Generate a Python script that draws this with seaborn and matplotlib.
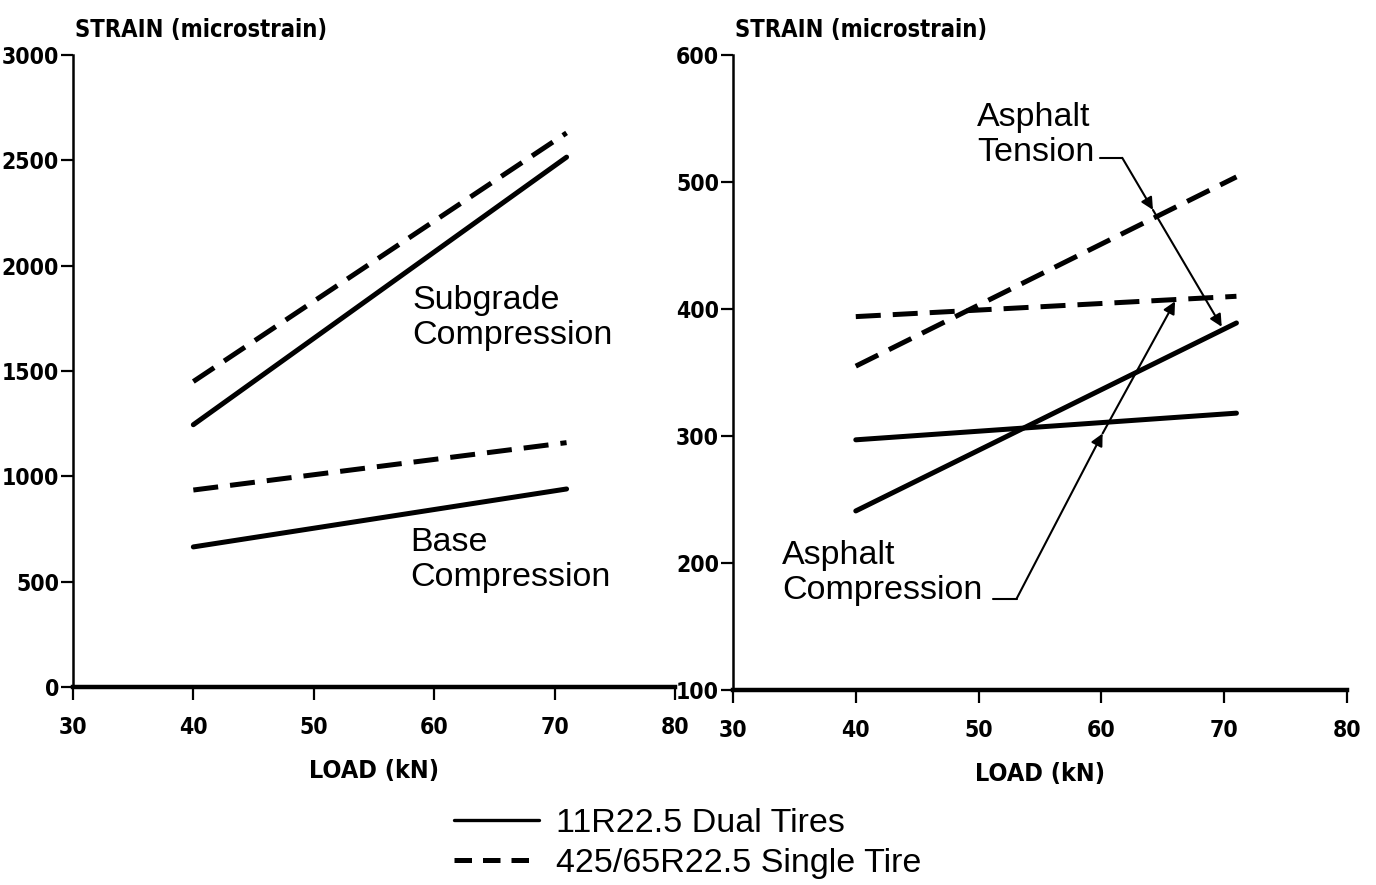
import matplotlib
matplotlib.use("Agg")
import matplotlib.pyplot as plt
import seaborn as sns
import pandas as pd

# ---- data ----
load = [40, 71]
subgrade_dual = [1245, 2515]
subgrade_single = [1450, 2630]
base_dual = [665, 940]
base_single = [935, 1160]
tension_dual = [241, 389]
tension_single = [355, 504]
compression_dual = [297, 318]
compression_single = [394, 410]

x_ticks = [30, 40, 50, 60, 70, 80]
left_yticks = [0, 500, 1000, 1500, 2000, 2500, 3000]
right_yticks = [100, 200, 300, 400, 500, 600]
tire_labels = ["11R22.5 Dual Tires", "425/65R22.5 Single Tire"]

sns.set_theme(style="white")
plt.rcParams['font.family'] = ['Liberation Sans', 'DejaVu Sans']
plt.rcParams['text.color'] = 'black'

NARROW = dict(family='DejaVu Sans', fontstretch='condensed', fontweight='bold')

fig = plt.figure(figsize=(13.76, 8.85), dpi=100)
axL = fig.add_axes([0.053, 0.2237, 0.4375, 0.7142])
axR = fig.add_axes([0.5327, 0.2203, 0.4462, 0.7176])

LW = 3.6
DASH = (5, 2.4)


def draw(ax, dual, single):
    df = pd.DataFrame({"load": load * 2, "strain": dual + single,
                       "tire": [tire_labels[0]] * 2 + [tire_labels[1]] * 2})
    sns.lineplot(data=df, x="load", y="strain", style="tire",
                 dashes={tire_labels[0]: "", tire_labels[1]: DASH},
                 color="black", linewidth=LW, ax=ax, legend=False,
                 estimator=None)


draw(axL, subgrade_dual, subgrade_single)
draw(axL, base_dual, base_single)
draw(axR, tension_dual, tension_single)
draw(axR, compression_dual, compression_single)

for ax, yt in ((axL, left_yticks), (axR, right_yticks)):
    ax.set_xlim(30, 80)
    ax.set_ylim(yt[0], yt[-1])
    ax.set_xticks(x_ticks)
    ax.set_yticks(yt)
    ax.set_xticklabels([str(v) for v in x_ticks], fontsize=16.5, color='black',
                       **NARROW)
    ax.set_yticklabels([str(v) for v in yt], fontsize=16.5, color='black',
                       **NARROW)
    ax.tick_params(axis='both', direction='out', length=9, width=1.6,
                   color='black', bottom=True, left=True)
    ax.tick_params(axis='x', pad=12)
    ax.tick_params(axis='y', pad=1)
    for s in ('top', 'right'):
        ax.spines[s].set_visible(False)
    ax.spines['left'].set_color('black')
    ax.spines['left'].set_linewidth(1.8)
    ax.spines['bottom'].set_color('black')
    ax.spines['bottom'].set_linewidth(3.2)
    ax.set_xlabel("LOAD (kN)", fontsize=18, labelpad=14, color='black',
                  **NARROW)
    ax.set_ylabel("")
    ax.text(0.003, 1.02, "STRAIN (microstrain)", transform=ax.transAxes,
            fontsize=17, ha='left', va='bottom', color='black', **NARROW)
    ax.patch.set_alpha(0)

TXT = 24.5
for ax, x, y, s in ((axL, 58.2, 1751, "Subgrade\nCompression"),
                    (axL, 58.0, 603, "Base\nCompression"),
                    (axR, 49.9, 537, "Asphalt\nTension"),
                    (axR, 34.0, 192, "Asphalt\nCompression")):
    ax.text(x, y, s, fontsize=TXT, ha='left', va='center',
            linespacing=1.15, color='black')

# leader lines and arrows
ap = dict(arrowstyle='-|>', color='black', lw=1.5, mutation_scale=18,
          shrinkA=0, shrinkB=0)
# tension
axR.plot([59.9, 61.7], [519, 519], color='black', lw=1.5)
axR.annotate("", xy=(64.2, 478), xytext=(61.7, 519), arrowprops=ap)
axR.annotate("", xy=(69.8, 386), xytext=(64.2, 478), arrowprops=ap)
# compression
axR.plot([51.2, 53.1], [172, 172], color='black', lw=1.5)
axR.annotate("", xy=(60.1, 302), xytext=(53.1, 172), arrowprops=ap)
axR.annotate("", xy=(66.0, 406), xytext=(60.1, 302), arrowprops=ap)

# legend
handles = [plt.Line2D([], [], color='black', lw=2.4),
           plt.Line2D([], [], color='black', lw=3.6, dashes=(3.5, 2.2))]
leg = fig.legend(handles, tire_labels, loc='center',
                 bbox_to_anchor=(0.5, 0.047), frameon=False, fontsize=TXT,
                 handlelength=2.5, handletextpad=0.5, labelspacing=0.25,
                 borderpad=0)
for t in leg.get_texts():
    t.set_color('black')

fig.savefig("out.png", dpi=100)
